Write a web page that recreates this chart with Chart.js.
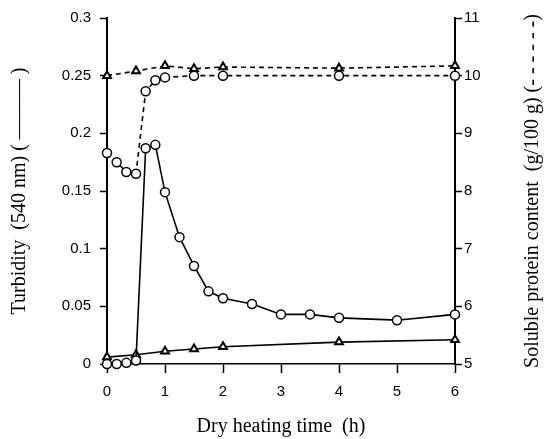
<!DOCTYPE html>
<html>
<head>
<meta charset="utf-8">
<script src="https://cdn.jsdelivr.net/npm/chart.js@4/dist/chart.umd.min.js"></script>
<style>
  html, body { margin: 0; padding: 0; background: #fff; }
  #wrap { width: 545px; height: 439px; }
</style>
</head>
<body>
<div id="wrap"><canvas id="chartTurbidity" width="545" height="439"></canvas></div>
<script>
// dry heating time (h)
var timeFine = [0, 1 / 6, 1 / 3, 0.5, 2 / 3, 5 / 6, 1, 1.25, 1.5, 1.75, 2, 2.5, 3, 3.5, 4, 5, 6];
var timeCoarse = [0, 0.5, 1, 1.5, 2, 4, 6];
var timeProtein = [0, 1 / 6, 1 / 3, 0.5, 2 / 3, 5 / 6, 1, 1.5, 2, 4, 6];

// turbidity (540 nm), left axis
var turbidityCircle = [0, 0, 0.001, 0.003, 0.187, 0.19, 0.149, 0.11, 0.085, 0.063, 0.057, 0.052, 0.043, 0.043, 0.04, 0.038, 0.043];
var turbidityTriangle = [0.006, 0.008, 0.011, 0.013, 0.015, 0.019, 0.021];

// soluble protein content (g/100 g), right axis
var proteinCircle = [8.66, 8.5, 8.33, 8.3, 9.73, 9.92, 9.97, 10.0, 10.0, 10.0, 10.0];
var proteinTriangle = [10.0, 10.08, 10.17, 10.12, 10.15, 10.13, 10.17];

// tick labels
var leftTicks = ['0', '0.05', '0.1', '0.15', '0.2', '0.25', '0.3'];
var rightTicks = ['5', '6', '7', '8', '9', '10', '11'];
var xTicks = ['0', '1', '2', '3', '4', '5', '6'];

var xTitle = 'Dry heating time  (h)';
var leftTitle = 'Turbidity  (540 nm) ( \u2014\u2014\u2014 )';
var rightTitle = 'Soluble protein content  (g/100 g) (- - - - - -)';

function toPoints(xs, ys) {
    var pts = [];
    for (var i = 0; i < ys.length; i++) {
        pts.push({ x: xs[i], y: ys[i] });
    }
    return pts;
}

function lineSet(xs, ys, axis, shape, dashed) {
    return {
        data: toPoints(xs, ys),
        yAxisID: axis,
        borderColor: '#000',
        borderWidth: 1.6,
        borderDash: dashed ? [5, 4] : [],
        pointStyle: shape,
        pointRadius: 4.5,
        pointBorderWidth: shape === 'triangle' ? 2 : 1.5,
        pointBackgroundColor: '#fff',
        pointBorderColor: '#000',
        tension: 0,
        clip: false
    };
}

var tickFont = { family: '"Liberation Sans", Arial, sans-serif', size: 15 };
var titleFont = { family: '"Liberation Serif", "Times New Roman", serif', size: 20 };

var rightTitlePlugin = {
    id: 'rightTitle',
    afterDraw: function (chart) {
        var ctx = chart.ctx;
        var area = chart.chartArea;
        ctx.save();
        ctx.translate(chart.scales.y1.right - 12, (area.top + area.bottom) / 2);
        ctx.rotate(-Math.PI / 2);
        ctx.font = titleFont.size + 'px ' + titleFont.family;
        ctx.fillStyle = '#000';
        ctx.textAlign = 'center';
        ctx.textBaseline = 'middle';
        ctx.fillText(rightTitle, 0, 0);
        ctx.restore();
    }
};

var chartEl = document.getElementById('chartTurbidity');
var myChart = new Chart(chartEl, {
    type: 'line',
    data: {
        datasets: [
            lineSet(timeFine, turbidityCircle, 'y', 'circle', false),
            lineSet(timeCoarse, turbidityTriangle, 'y', 'triangle', false),
            lineSet(timeProtein, proteinCircle, 'y1', 'circle', true),
            lineSet(timeCoarse, proteinTriangle, 'y1', 'triangle', true)
        ]
    },
    options: {
        responsive: false,
        devicePixelRatio: 1,
        animation: false,
        layout: { padding: { top: 18, left: 0, right: 0, bottom: 0 } },
        plugins: {
            legend: { display: false },
            tooltip: { enabled: false }
        },
        scales: {
            x: {
                type: 'linear',
                min: 0,
                max: 6,
                afterFit: function (scale) { scale.height = 75; },
                ticks: {
                    stepSize: 1, color: '#000', font: tickFont, padding: 10, maxRotation: 0,
                    callback: function (v, i) { return xTicks[i]; }
                },
                grid: { drawOnChartArea: false, tickLength: 9, tickColor: '#000', tickWidth: 1.5 },
                border: { display: true, color: '#000', width: 1.5 },
                title: { display: true, text: xTitle, color: '#000', font: titleFont, padding: { top: 0, bottom: 0 } }
            },
            y: {
                position: 'left',
                min: 0,
                max: 0.3,
                afterFit: function (scale) { scale.width = 107; },
                ticks: {
                    stepSize: 0.05, color: '#000', font: tickFont, padding: 9,
                    callback: function (v, i) { return leftTicks[i]; }
                },
                grid: { drawOnChartArea: false, tickLength: 7, tickColor: '#000', tickWidth: 1.5 },
                border: { display: true, color: '#000', width: 2 },
                title: { display: true, text: leftTitle, color: '#000', font: titleFont, padding: { top: 8, bottom: 0 } }
            },
            y1: {
                position: 'right',
                min: 5,
                max: 11,
                afterFit: function (scale) { scale.width = 90; },
                ticks: {
                    stepSize: 1, color: '#000', font: tickFont, padding: 2,
                    callback: function (v, i) { return rightTicks[i]; }
                },
                grid: { drawOnChartArea: false, tickLength: 7, tickColor: '#000', tickWidth: 1.5 },
                border: { display: true, color: '#000', width: 2 }
            }
        }
    },
    plugins: [rightTitlePlugin]
});
</script>
</body>
</html>
